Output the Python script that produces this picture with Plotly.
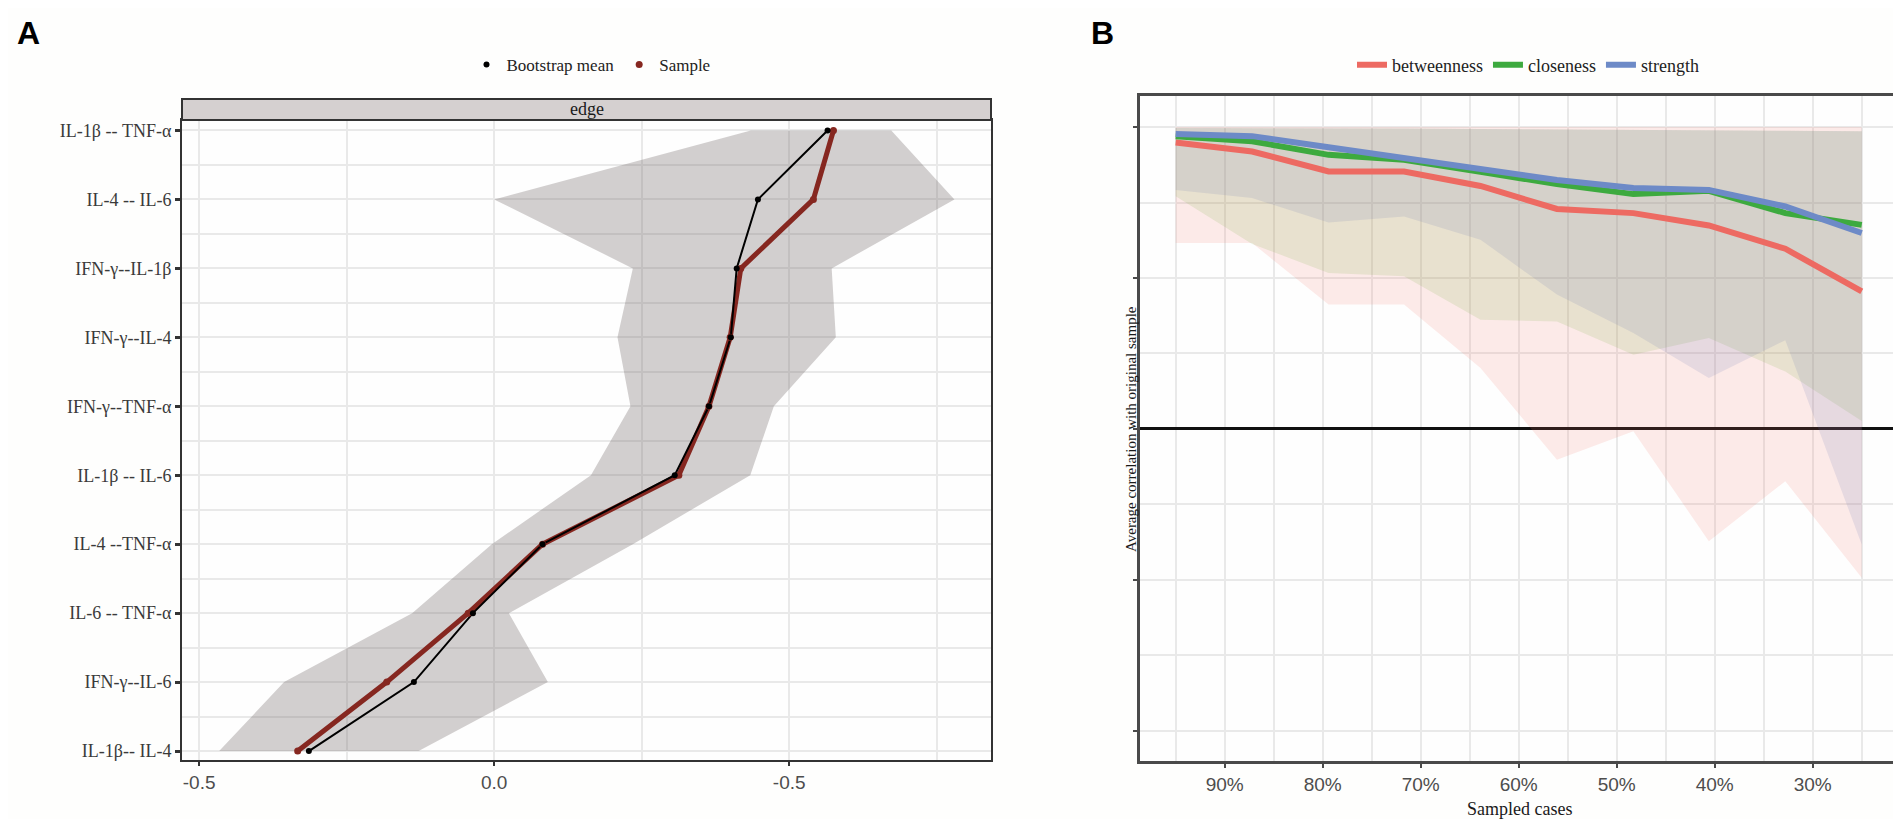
import plotly.graph_objects as go

# Panel A - edge weights (sample vs bootstrap mean, with bootstrap CI)
edges = [
    "IL-1β -- TNF-α", "IL-4 -- IL-6", "IFN-γ--IL-1β", "IFN-γ--IL-4", "IFN-γ--TNF-α",
    "IL-1β -- IL-6", "IL-4 --TNF-α", "IL-6 -- TNF-α", "IFN-γ--IL-6", "IL-1β-- IL-4",
]
sample = [0.575, 0.541, 0.418, 0.400, 0.364, 0.313, 0.082, -0.044, -0.182, -0.333]
boot_mean = [0.565, 0.447, 0.411, 0.401, 0.364, 0.306, 0.082, -0.036, -0.136, -0.314]
ci_lower = [0.435, 0.000, 0.235, 0.209, 0.231, 0.164, -0.004, -0.139, -0.356, -0.466]
ci_upper = [0.673, 0.780, 0.572, 0.579, 0.474, 0.434, 0.235, 0.025, 0.091, -0.128]
a_tickvals = [-0.5, 0.0, 0.5]
a_ticktext = ["-0.5", "0.0", "-0.5"]

# Panel B - case-dropping stability
sampled = [95.0, 87.2, 79.4, 71.7, 63.9, 56.1, 48.3, 40.6, 32.8, 25.0]
betweenness = [0.949, 0.919, 0.853, 0.853, 0.805, 0.729, 0.715, 0.674, 0.597, 0.456]
closeness = [0.970, 0.953, 0.908, 0.892, 0.852, 0.811, 0.778, 0.789, 0.715, 0.676]
strength = [0.977, 0.970, 0.933, 0.897, 0.865, 0.825, 0.798, 0.792, 0.737, 0.649]
betweenness_lo = [0.616, 0.616, 0.412, 0.412, 0.202, -0.102, -0.008, -0.372, -0.173, -0.493]
closeness_lo = [0.771, 0.613, 0.517, 0.506, 0.362, 0.356, 0.246, 0.301, 0.190, 0.026]
strength_lo = [0.792, 0.765, 0.684, 0.704, 0.627, 0.445, 0.318, 0.169, 0.294, -0.383]
betweenness_hi = [1.000, 1.000, 1.000, 1.000, 1.000, 1.000, 1.000, 1.000, 1.000, 1.000]
closeness_hi = [0.997, 0.997, 0.996, 0.995, 0.994, 0.993, 0.992, 0.990, 0.988, 0.986]
strength_hi = [0.997, 0.997, 0.996, 0.995, 0.994, 0.993, 0.992, 0.990, 0.988, 0.986]
b_tickvals = [90, 80, 70, 60, 50, 40, 30]
b_ticktext = ["90%", "80%", "70%", "60%", "50%", "40%", "30%"]

W, H = 1901, 819
SERIF = "Liberation Serif, Times New Roman, serif"
NARROW = "Liberation Sans Narrow, Arial Narrow, Liberation Sans, sans-serif"
DARKRED = "#862720"

pos = [len(edges) - 1 - i for i in range(len(edges))]

fig = go.Figure()

# --- panel A ---
fig.add_trace(go.Scatter(
    x=ci_lower + ci_upper[::-1], y=pos + pos[::-1],
    fill="toself", fillcolor="rgba(110,100,100,0.30)", line=dict(width=0),
    mode="lines", showlegend=False, hoverinfo="skip", xaxis="x", yaxis="y"))
fig.add_trace(go.Scatter(
    x=sample, y=pos, mode="lines", line=dict(color=DARKRED, width=5),
    showlegend=False, xaxis="x", yaxis="y"))
fig.add_trace(go.Scatter(
    x=boot_mean, y=pos, mode="lines", line=dict(color="black", width=2),
    showlegend=False, xaxis="x", yaxis="y"))
fig.add_trace(go.Scatter(
    x=sample, y=pos, mode="markers", marker=dict(color=DARKRED, size=7),
    name="Sample", legend="legend", legendrank=2, xaxis="x", yaxis="y"))
fig.add_trace(go.Scatter(
    x=boot_mean, y=pos, mode="markers", marker=dict(color="black", size=6),
    name="Bootstrap mean", legend="legend", legendrank=1, xaxis="x", yaxis="y"))

# --- panel B ---
measures = [
    ("betweenness", betweenness, betweenness_lo, betweenness_hi, "#ED6A62", "rgba(240,110,100,0.14)"),
    ("closeness", closeness, closeness_lo, closeness_hi, "#3DAA3F", "rgba(110,170,60,0.14)"),
    ("strength", strength, strength_lo, strength_hi, "#6D8AC7", "rgba(100,115,175,0.14)"),
]
for name, mean, lo, hi, col, fcol in measures:
    fig.add_trace(go.Scatter(
        x=sampled + sampled[::-1], y=hi + lo[::-1],
        fill="toself", fillcolor=fcol, line=dict(width=0), mode="lines",
        showlegend=False, hoverinfo="skip", xaxis="x2", yaxis="y2"))
for i, (name, mean, lo, hi, col, fcol) in enumerate(measures):
    fig.add_trace(go.Scatter(
        x=sampled, y=mean, mode="lines", line=dict(color=col, width=6),
        name=name, legend="legend2", legendrank=i + 1, xaxis="x2", yaxis="y2"))

grid = "#e9e9e9"
fig.update_layout(
    width=W, height=H,
    margin=dict(l=0, r=0, t=0, b=0),
    paper_bgcolor="#fefefd", plot_bgcolor="#fefefe",
    xaxis=dict(
        domain=[174 / W, 983 / W], range=[-0.529, 0.842],
        tickmode="array", tickvals=a_tickvals, ticktext=a_ticktext,
        showgrid=True, gridcolor=grid, gridwidth=2, zeroline=False,
        minor=dict(tickmode="linear", tick0=0.25, dtick=0.5, showgrid=True,
                   gridcolor=grid, gridwidth=2, ticks=""),
        showline=True, linecolor="#333333", linewidth=2, mirror=True,
        ticks="outside", ticklen=4, tickwidth=2, tickcolor="#333333",
        tickfont=dict(family=NARROW, size=19, color="#4d4d4d"),
    ),
    yaxis=dict(
        domain=[1 - 752 / H, 1 - 112 / H], range=[-0.13, 9.152],
        tickmode="array", tickvals=pos, ticktext=edges,
        showgrid=True, gridcolor=grid, gridwidth=2, zeroline=False,
        minor=dict(tickmode="linear", tick0=0.5, dtick=1, showgrid=True,
                   gridcolor=grid, gridwidth=2, ticks=""),
        showline=True, linecolor="#333333", linewidth=2, mirror=True,
        ticks="outside", ticklen=5, tickwidth=3, tickcolor="#333333",
        tickfont=dict(family=SERIF, size=18, color="#3a3a3a"),
    ),
    xaxis2=dict(
        domain=[1132 / W, 1890 / W], range=[98.64, 21.3],
        tickmode="array", tickvals=b_tickvals, ticktext=b_ticktext,
        showgrid=True, gridcolor=grid, gridwidth=2, zeroline=False,
        minor=dict(tickmode="linear", tick0=5, dtick=10, showgrid=True,
                   gridcolor=grid, gridwidth=1.5, ticks=""),
        showline=True, linecolor="#4a4a4a", linewidth=3, mirror=True,
        ticks="outside", ticklen=4, tickwidth=2, tickcolor="#4a4a4a",
        tickfont=dict(family=NARROW, size=19, color="#4d4d4d"),
        anchor="y2",
    ),
    yaxis2=dict(
        domain=[1 - 753 / H, 1 - 88 / H], range=[-1.1, 1.103],
        tickmode="array", tickvals=[-1, -0.5, 0, 0.5, 1], showticklabels=False,
        showgrid=True, gridcolor=grid, gridwidth=2,
        zeroline=True, zerolinecolor="#111111", zerolinewidth=3,
        minor=dict(tickmode="linear", tick0=0.25, dtick=0.5, showgrid=True,
                   gridcolor=grid, gridwidth=1.5, ticks=""),
        showline=True, linecolor="#4a4a4a", linewidth=3, mirror=True,
        ticks="outside", ticklen=4, tickwidth=2, tickcolor="#4a4a4a",
        anchor="x2",
    ),
    legend=dict(
        orientation="h", x=583 / W, xanchor="center", y=1 - 57 / H, yanchor="middle",
        font=dict(family=SERIF, size=17, color="#222222"),
        bgcolor="rgba(0,0,0,0)", itemwidth=30, tracegroupgap=0,
    ),
    legend2=dict(
        orientation="h", x=1520 / W, xanchor="center", y=1 - 57 / H, yanchor="middle",
        font=dict(family=SERIF, size=18, color="#222222"),
        bgcolor="rgba(0,0,0,0)", itemwidth=30, tracegroupgap=0,
    ),
    shapes=[
        dict(type="rect", xref="paper", yref="paper",
             x0=174 / W, x1=983 / W, y0=1 - 112 / H, y1=1 - 91 / H,
             fillcolor="#d5d0d0", line=dict(color="#333333", width=2)),
    ],
    annotations=[
        dict(text="<b>A</b>", x=20 / W, y=1 - 25 / H, xref="paper", yref="paper",
             xanchor="center", yanchor="middle", showarrow=False,
             font=dict(family="Liberation Sans, Arial, sans-serif", size=32, color="black")),
        dict(text="<b>B</b>", x=1094 / W, y=1 - 25 / H, xref="paper", yref="paper",
             xanchor="center", yanchor="middle", showarrow=False,
             font=dict(family="Liberation Sans, Arial, sans-serif", size=32, color="black")),
        dict(text="edge", x=(174 + 983) / 2 / W, y=1 - 101 / H, xref="paper", yref="paper",
             xanchor="center", yanchor="middle", showarrow=False,
             font=dict(family=SERIF, size=18, color="#1a1a1a")),
        dict(text="Average correlation with original sample", textangle=-90,
             x=1123 / W, y=1 - 421 / H, xref="paper", yref="paper",
             xanchor="center", yanchor="middle", showarrow=False,
             font=dict(family=SERIF, size=15, color="#1a1a1a")),
        dict(text="Sampled cases", x=1511 / W, y=1 - 801 / H, xref="paper", yref="paper",
             xanchor="center", yanchor="middle", showarrow=False,
             font=dict(family=SERIF, size=18, color="#1a1a1a")),
    ],
)

fig.write_html("out.html")
